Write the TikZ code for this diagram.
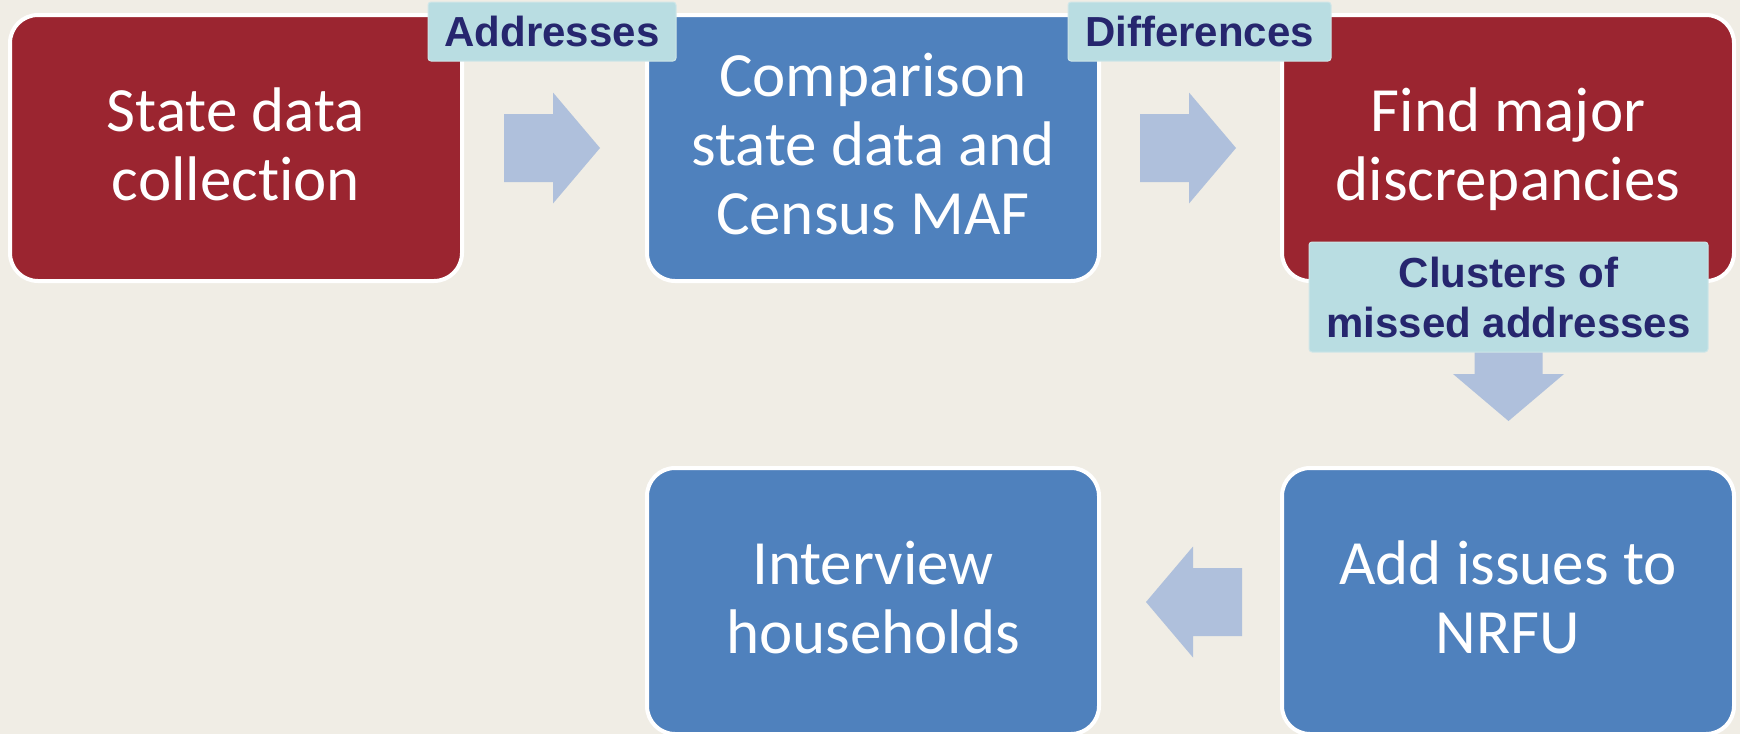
\documentclass[tikz,border=0pt]{standalone}
\usepackage{fontspec}
\setmainfont{Carlito}[Ligatures=CommonOff]
\newfontfamily\labfont{Liberation Sans}
\usetikzlibrary{calc}
\definecolor{bgc}{HTML}{F0EDE5}
\definecolor{redc}{HTML}{9B2530}
\definecolor{bluec}{HTML}{4F81BD}
\definecolor{arrc}{HTML}{AFC0DC}
\definecolor{labc}{HTML}{B9DDE2}
\definecolor{labline}{HTML}{CFE6E8}
\definecolor{labtext}{HTML}{26266E}
\newcommand\bstrut{\rule[-15pt]{0pt}{65pt}}
\begin{document}
\begin{tikzpicture}[x=1pt,y=-1pt,
 box/.style={rounded corners=28pt, draw=white, line width=4pt, minimum width=452pt, minimum height=266pt, inner sep=0pt, text=white, align=center, font=\fontsize{63}{69}\selectfont},
 redbox/.style={box, fill=redc},
 bluebox/.style={box, fill=bluec},
 lab/.style={fill=labc, draw=labline, line width=1pt, rounded corners=3pt, inner sep=0pt, text=labtext, align=center, font=\labfont\bfseries\fontsize{42}{50}\selectfont},
 blockarrow/.pic={\fill[arrc] (-48,-34) -- (1,-34) -- (1,-55.5) -- (48,0) -- (1,55.5) -- (1,34) -- (-48,34) -- cycle;}
]
\useasboundingbox (0,0) rectangle (1740,734);
\fill[bgc] (0,0) rectangle (1740,734);

\node[redbox] (b1) at (236,148) {\bstrut State data\\\bstrut collection};
\node[bluebox] (b2) at (873,148) {\bstrut Comparison\\\bstrut state data and\\\bstrut Census MAF};
\node[redbox] (b3) at (1508,148) {\bstrut Find major\\\bstrut discrepancies};
\node[bluebox] (b4) at (1508,601) {\bstrut Add issues to\\\bstrut NRFU};
\node[bluebox] (b5) at (873,601) {\bstrut Interview\\\bstrut households};

\pic at (552,148) {blockarrow};
\pic at (1188,148) {blockarrow};
\pic[rotate=-90] at (1508.5,373) {blockarrow};
\pic[rotate=180] at (1194,602) {blockarrow};

\node[lab, minimum width=248pt, minimum height=59pt] (l1) at (552,31.5) {Addresses};
\node[lab, minimum width=263pt, minimum height=59pt] (l2) at (1199.5,31.5) {Differences};
\node[lab, minimum width=399pt, minimum height=110pt] (l3) at (1508.5,297) {Clusters of\\missed addresses};
\end{tikzpicture}
\end{document}
